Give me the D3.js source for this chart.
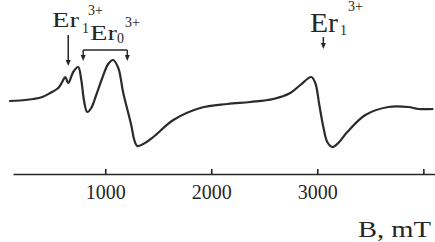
<!DOCTYPE html>
<html>
<head>
<meta charset="utf-8">
<script src="https://cdn.jsdelivr.net/npm/d3@7"></script>
<style>
    html, body { margin: 0; padding: 0; background: #fff; }
    #chart svg { display: block; }
    .lbl { font-family: "Liberation Serif", "Times New Roman", serif; fill: #262626; }
    .x-axis text { font-family: "Liberation Serif", "Times New Roman", serif; font-size: 20px; fill: #262626; }
    .x-axis path, .x-axis line { stroke: #262626; stroke-width: 1.6; }
</style>
</head>
<body>
<div id="chart"></div>
<script>
//Datos del espectro EPR (campo B en mT, señal en unidades arbitrarias)
const fieldB = [94, 198, 321, 406, 481, 557, 594, 623, 651, 698, 745, 774, 802, 830, 868, 915, 972, 1028, 1075, 1123,
    1170, 1245, 1274, 1302, 1358, 1453, 1642, 1896, 2151, 2368, 2585, 2745, 2840, 2943, 2981, 3019, 3057, 3094,
    3141, 3198, 3283, 3453, 3670, 3858, 3953, 4094];
const signal = [-1, -0.5, 1, 3, 7, 12, 18, 23, 17, 28, 33, 20, -2, -12, -8, 5, 22, 36, 40, 32,
    7, -25, -40, -46, -44, -37, -20, -8, -4, -2, 1, 7, 15, 23, 17, -5, -27, -42,
    -47, -43, -32, -15, -7, -7, -9, -9];

const tickValues = [1000, 2000, 3000, 4000];
const tickLabels = ['1000', '2000', '3000', ''];

//Anotaciones: posición de las flechas en B (mT)
const arrowB = [651, 3057];
const bracketB = [792, 1208];

///Valores iniciales
let width = 435, height = 242;

let svg = d3.select('#chart')
    .append('svg')
        .attr('width', width)
        .attr('height', height);

let x = d3.scaleLinear()
    .domain([130, 4110])
    .range([13, 435]);

let y = d3.scaleLinear()
    .domain([-50, 50])
    .range([150, 50]);

//Eje X
let xAxis = d3.axisBottom(x)
    .tickValues(tickValues)
    .tickFormat(function(d, i) { return tickLabels[i]; })
    .tickSizeInner(-5)
    .tickSizeOuter(0)
    .tickPadding(11);

svg.append('g')
    .attr('class', 'x-axis')
    .attr('transform', 'translate(0,174)')
    .call(xAxis);

svg.append('text')
    .attr('class', 'lbl')
    .attr('x', 358)
    .attr('y', 237)
    .attr('font-size', 23)
    .attr('textLength', 73)
    .attr('lengthAdjust', 'spacingAndGlyphs')
    .text('B, mT');

//Curva
let data = fieldB.map(function(b, i) { return { b: b, v: signal[i] }; });

let line = d3.line()
    .x(function(d) { return x(d.b); })
    .y(function(d) { return y(d.v); })
    .curve(d3.curveCatmullRom.alpha(0.5));

svg.append('path')
    .datum(data)
    .attr('fill', 'none')
    .attr('stroke', '#2b2b2b')
    .attr('stroke-width', 2.2)
    .attr('stroke-linejoin', 'round')
    .attr('d', line);

//Flechas
function arrow(xp, y0, y1) {
    svg.append('line')
        .attr('x1', xp).attr('x2', xp)
        .attr('y1', y0).attr('y2', y1 - 4)
        .attr('stroke', '#262626')
        .attr('stroke-width', 1.5);
    svg.append('path')
        .attr('d', 'M' + (xp - 2.5) + ',' + (y1 - 6) + 'L' + (xp + 2.5) + ',' + (y1 - 6) + 'L' + xp + ',' + y1 + 'Z')
        .attr('fill', '#262626');
}

arrow(x(arrowB[0]), 35, 66);
arrow(x(arrowB[1]), 37, 49);

//Corchete Er0
let bx0 = x(bracketB[0]), bx1 = x(bracketB[1]);
svg.append('line')
    .attr('x1', bx0).attr('x2', bx1)
    .attr('y1', 50).attr('y2', 50)
    .attr('stroke', '#262626')
    .attr('stroke-width', 1.5);
arrow(bx0, 50, 61);
arrow(bx1, 50, 61);

//Etiquetas
function label(xp, base, size, stretch, sub, subDx, subBase, supDx, supBase) {
    svg.append('text')
        .attr('class', 'lbl')
        .attr('x', xp).attr('y', base)
        .attr('font-size', size)
        .attr('textLength', stretch)
        .attr('lengthAdjust', 'spacingAndGlyphs')
        .text('Er');
    svg.append('text')
        .attr('class', 'lbl')
        .attr('x', xp + subDx).attr('y', subBase)
        .attr('font-size', 14)
        .text(sub);
    svg.append('text')
        .attr('class', 'lbl')
        .attr('x', xp + supDx).attr('y', supBase)
        .attr('font-size', 14)
        .text('3+');
}

label(52, 27, 22, 27, '1', 30, 33, 36, 15);
label(90, 40, 22, 27, '0', 27, 43, 35, 27);
label(310, 32, 27, 28, '1', 30, 35, 38, 11);
</script>
</body>
</html>
